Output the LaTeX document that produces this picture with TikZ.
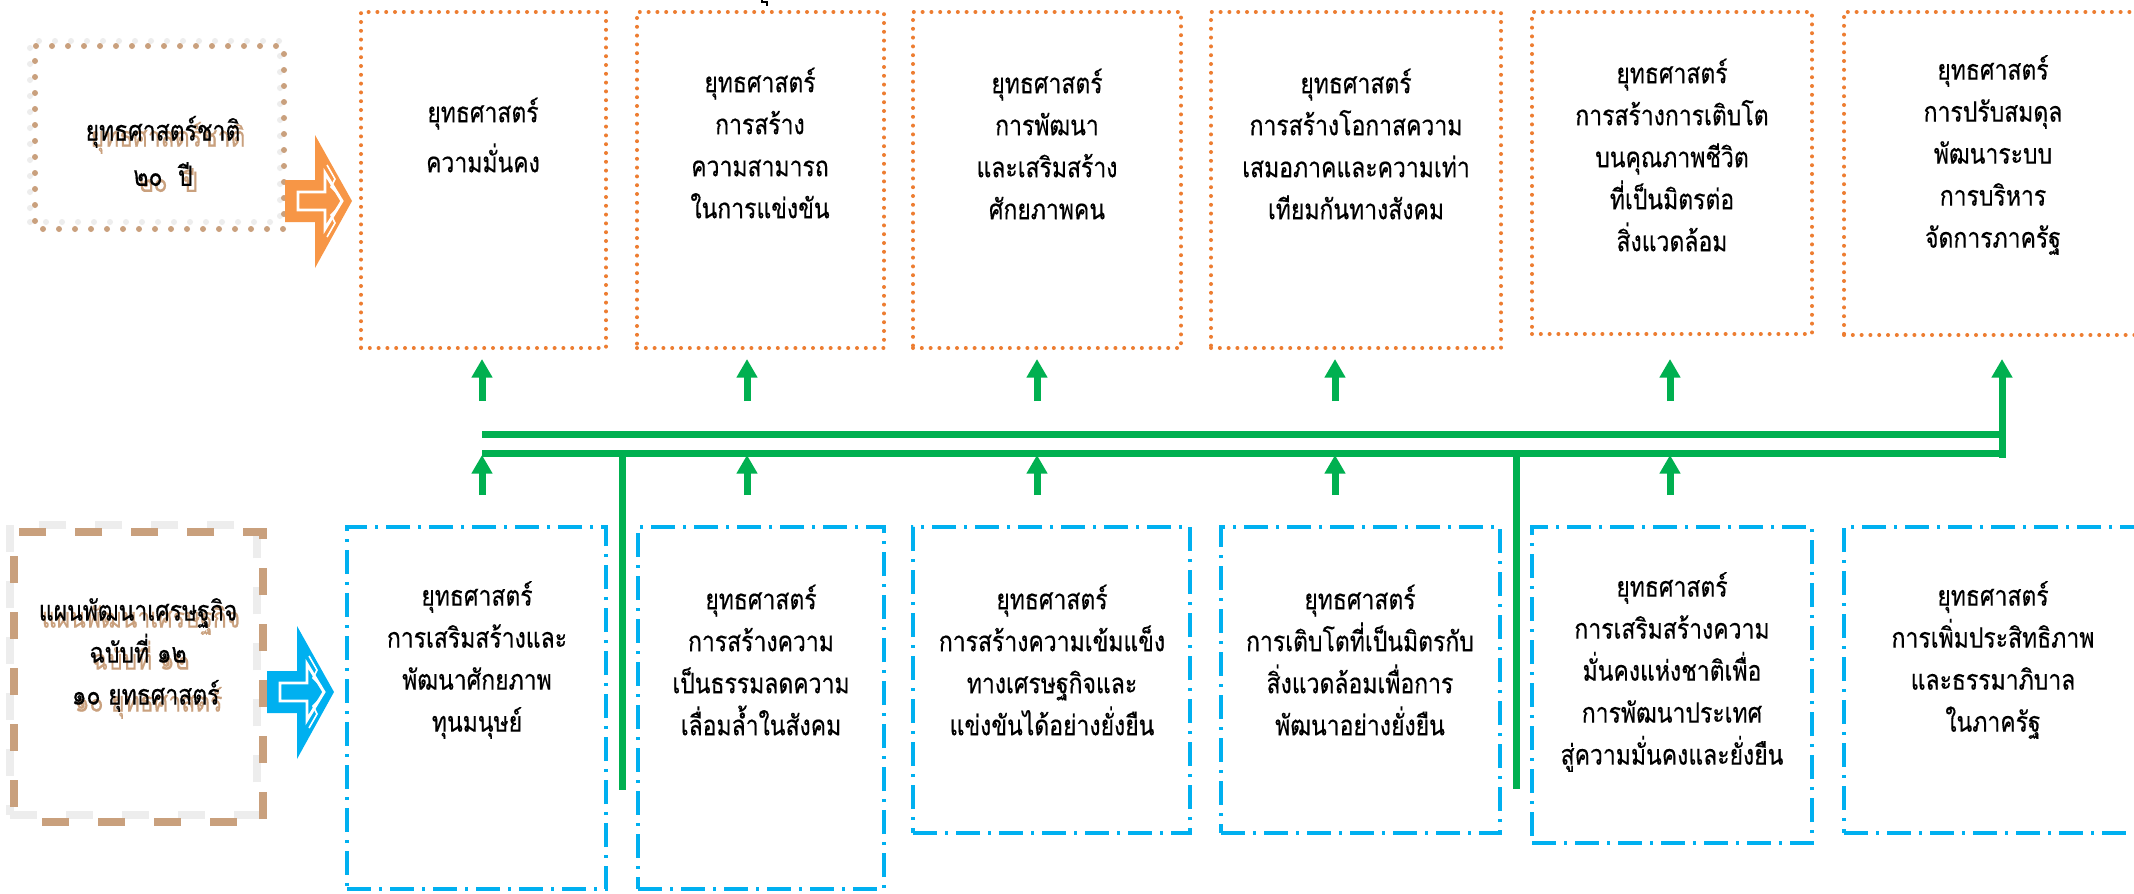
\documentclass[tikz,border=0pt]{standalone}
\usepackage{fontspec}
\newfontfamily\thai[Script=Thai,FakeStretch=0.82,FakeBold=0.4]{Loma}
\usetikzlibrary{arrows.meta,fit}
\definecolor{orangeb}{HTML}{ED7D31}
\definecolor{bluel}{HTML}{00B0F0}
\definecolor{greenl}{HTML}{00B050}
\definecolor{tanc}{HTML}{C9A07D}
\definecolor{greyl}{HTML}{EDEDED}
\definecolor{arrowor}{HTML}{F79646}
\newcommand\blockarr[3]{%
  \begin{scope}[shift={(#2,#3)}]
    \fill[#1] (0,-21) -- (30,-21) -- (30,-66) -- (67,0) -- (30,67) -- (30,21) -- (0,21) -- cycle;
    \draw[white, line width=2.2pt, fill=#1, line join=miter] (13,-9) -- (40,-9) -- (40,-28) -- (57,0) -- (40,28) -- (40,9) -- (13,9) -- cycle;
    \draw[white, line width=1.2pt] (42,-36) -- (50,-22) -- (46,-14) -- (54,-6);
    \draw[white, line width=1.2pt] (42,36) -- (50,22) -- (46,14) -- (54,6);
  \end{scope}}
\begin{document}
\begin{tikzpicture}[x=0.75pt,y=-0.75pt,
  topbox/.style={draw=orangeb, line width=3pt, dash pattern=on 0pt off 6.6pt, line cap=round, inner sep=0pt},
  botbox/.style={draw=bluel, line width=3pt, dash pattern=on 18pt off 6pt on 2.25pt off 6pt, inner sep=0pt},
  txt/.style={align=center, inner sep=0pt, font=\thai\fontsize{21}{31.5}\selectfont},
  gline/.style={draw=greenl, line width=5.25pt},
  garrow/.style={gline, -{Triangle[width=15pt,length=14pt]}},
]
\useasboundingbox (0,0) rectangle (2134,893);
\clip (0,0) rectangle (2134,893);
\fill[white] (0,0) rectangle (2134,893);

% ---- left: national strategy box
\node[draw=greyl, line width=4.5pt, dash pattern=on 0pt off 12pt, line cap=round, inner sep=0pt, fit={(30,41) (280,222)}] (natg) {};
\node[draw=tanc, line width=4.5pt, dash pattern=on 0pt off 12pt, dash phase=6pt, line cap=round, inner sep=0pt, fit={(35,46) (284,229)}] (nat) {};
\node[txt, text=tanc, font=\thai\fontsize{21}{34}\selectfont] (natsh) at (168,157) {ยุทธศาสตร์ชาติ\\๒๐~~ปี};
\node[txt, font=\thai\fontsize{21}{34}\selectfont] (nattx) at (163,151) {ยุทธศาสตร์ชาติ\\๒๐~~ปี};

% ---- left: plan box
\node[draw=greyl, line width=6pt, dash pattern=on 20pt off 22pt, inner sep=0pt, fit={(10,525) (257,815)}] (plang) {};
\node[draw=tanc, line width=6pt, dash pattern=on 20pt off 22pt, dash phase=21pt, inner sep=0pt, fit={(14,532) (263,822)}] (plan) {};
\node[txt, text=tanc] (plansh) at (141,662) {แผนพัฒนาเศรษฐกิจ\\ฉบับที่ ๑๒\\~~๑๐ ยุทธศาสตร์};
\node[txt] (plantx) at (138,655) {แผนพัฒนาเศรษฐกิจ\\ฉบับที่ ๑๒\\~~๑๐ ยุทธศาสตร์};

% ---- block arrows
\blockarr{arrowor}{285}{201}
\blockarr{bluel}{267}{692}

% ---- cut-off glyph at top
\draw[line width=1.4pt] (762,0) -- (762,2) -- (767,2) -- (767,6);

% ---- top boxes
\node[topbox, fit={(361,12) (606,348)}] (t1) {};
\node[topbox, fit={(637,12) (884,348)}] (t2) {};
\node[topbox, fit={(913,12) (1181,348)}] (t3) {};
\node[topbox, fit={(1211,12) (1501,348)}] (t4) {};
\node[topbox, fit={(1532,12) (1812,334)}] (t5) {};
\node[topbox, fit={(1844,12) (2142,335)}] (t6) {};

\node[txt, font=\thai\fontsize{21}{37.5}\selectfont] (t1x) at (483,135) {ยุทธศาสตร์\\ความมั่นคง};
\node[txt] (t2x) at (760,143) {ยุทธศาสตร์\\การสร้าง\\ความสามารถ\\ในการแข่งขัน};
\node[txt] (t3x) at (1047,144) {ยุทธศาสตร์\\การพัฒนา\\และเสริมสร้าง\\ศักยภาพคน};
\node[txt] (t4x) at (1356,144) {ยุทธศาสตร์\\การสร้างโอกาสความ\\เสมอภาคและความเท่า\\เทียมกันทางสังคม};
\node[txt] (t5x) at (1672,155) {ยุทธศาสตร์\\การสร้างการเติบโต\\บนคุณภาพชีวิต\\ที่เป็นมิตรต่อ\\สิ่งแวดล้อม};
\node[txt] (t6x) at (1993,155) {ยุทธศาสตร์\\การปรับสมดุล\\พัฒนาระบบ\\การบริหาร\\จัดการภาครัฐ};

% ---- bottom boxes
\node[botbox, fit={(347,527) (606,889)}] (b1) {};
\node[botbox, fit={(638,527) (884,889)}] (b2) {};
\node[botbox, fit={(913,527) (1190,833)}] (b3) {};
\node[botbox, fit={(1221,527) (1500,833)}] (b4) {};
\node[botbox, fit={(1532,527) (1812,843)}] (b5) {};
\node[botbox, fit={(1844,527) (2142,833)}] (b6) {};

\node[txt] (b1x) at (477,660) {ยุทธศาสตร์\\การเสริมสร้างและ\\พัฒนาศักยภาพ\\ทุนมนุษย์};
\node[txt] (b2x) at (761,660) {ยุทธศาสตร์\\การสร้างความ\\เป็นธรรมลดความ\\เลื่อมล้ำในสังคม};
\node[txt] (b3x) at (1052,660) {ยุทธศาสตร์\\การสร้างความเข้มแข็ง\\ทางเศรษฐกิจและ\\แข่งขันได้อย่างยั่งยืน};
\node[txt] (b4x) at (1360,660) {ยุทธศาสตร์\\การเติบโตที่เป็นมิตรกับ\\สิ่งแวดล้อมเพื่อการ\\พัฒนาอย่างยั่งยืน};
\node[txt] (b5x) at (1672,672) {ยุทธศาสตร์\\การเสริมสร้างความ\\มั่นคงแห่งชาติเพื่อ\\การพัฒนาประเทศ\\สู่ความมั่นคงและยั่งยืน};
\node[txt] (b6x) at (1993,660) {ยุทธศาสตร์\\การเพิ่มประสิทธิภาพ\\และธรรมาภิบาล\\ในภาครัฐ};

% ---- green connectors
\coordinate (uL) at (482,434);
\coordinate (uR) at (2002,434);
\coordinate (lL) at (482,453);
\coordinate (lR) at (2002,453);
\coordinate (rB) at (2002,458);
\coordinate (rT) at (2002,359);
\draw[gline] (uL) -- (uR);
\draw[gline] (lL) -- (lR);
\draw[garrow] (rB) -- (rT);

\foreach \xx/\nm in {482/a,747/b,1037/c,1335/d,1670/e}{
  \coordinate (ts\nm) at (\xx,401);
  \coordinate (tt\nm) at (\xx,359);
  \coordinate (bs\nm) at (\xx,495);
  \coordinate (bt\nm) at (\xx,455);
  \draw[garrow] (ts\nm) -- (tt\nm);
  \draw[garrow] (bs\nm) -- (bt\nm);
}
\coordinate (k1t) at (622,451);
\coordinate (k1b) at (622,790);
\coordinate (k2t) at (1516,451);
\coordinate (k2b) at (1516,789);
\draw[gline] (k1t) -- (k1b);
\draw[gline] (k2t) -- (k2b);
\end{tikzpicture}
\end{document}
